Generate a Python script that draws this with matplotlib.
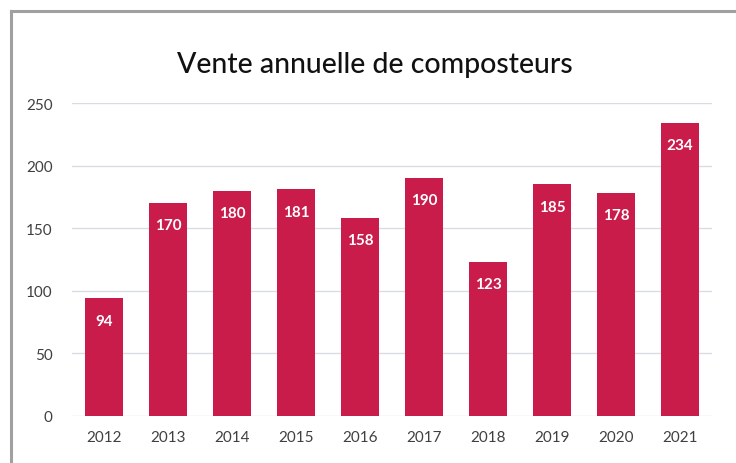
import matplotlib
matplotlib.use("Agg")
import matplotlib.pyplot as plt
from matplotlib.lines import Line2D

years = ["2012", "2013", "2014", "2015", "2016", "2017", "2018", "2019", "2020", "2021"]
sales = [94, 170, 180, 181, 158, 190, 123, 185, 178, 234]
yticks = [0, 50, 100, 150, 200, 250]
title = "Vente annuelle de composteurs"

plt.rcParams['font.family'] = ['Lato', 'DejaVu Sans']

W, H = 736, 464
fig = plt.figure(figsize=(W / 100, H / 100), dpi=100)
fig.patch.set_facecolor("white")

ax = fig.add_axes([72 / W, 1 - 417 / H, 640 / W, 313 / H])
bar_color = "#C91C4B"
grid_color = "#D9DCE4"
text_color = "#404040"

x = list(range(len(years)))
bars = ax.bar(x, sales, width=0.59, color=bar_color, zorder=3)
ax.set_xlim(-0.5, len(years) - 0.5)
ax.set_ylim(0, 250)
ax.set_yticks(yticks)
ax.set_xticks(x)
ax.set_xticklabels(years)
for s in ax.spines.values():
    s.set_visible(False)
ax.yaxis.grid(True, color=grid_color, linewidth=1, zorder=0)
ax.tick_params(axis="both", length=0, labelsize=11, colors=text_color)
ax.tick_params(axis="y", pad=14)
ax.tick_params(axis="x", pad=10)

for xi, v in zip(x, sales):
    ax.annotate(str(v), xy=(xi, v), xytext=(0, -16), textcoords="offset points",
                ha="center", va="center", color="white", fontsize=11, fontweight="bold", zorder=4)

fig.text(375 / W, 1 - 65 / H, title, ha="center", va="center", fontsize=20.5,
         color="#111111", fontweight="medium")

# outer border (left and top)
fig.add_artist(Line2D([11 / W, 11 / W], [0, 1 - 12 / H], transform=fig.transFigure,
                      color="#A0A0A0", linewidth=2.2))
fig.add_artist(Line2D([11 / W, 1], [1 - 12 / H, 1 - 12 / H], transform=fig.transFigure,
                      color="#A0A0A0", linewidth=2.2))

fig.savefig("out.png", dpi=100, facecolor="white")
